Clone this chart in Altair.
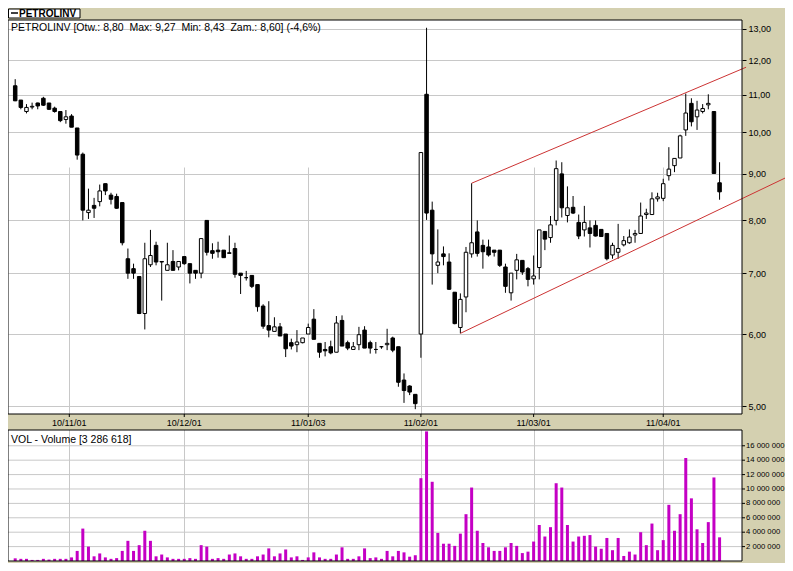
import altair as alt
import pandas as pd

# ---------------- data ----------------
opens = [11.25, 10.85, 10.54, 10.66, 10.77, 10.90, 10.77, 10.63, 10.54, 10.33,
         10.42, 10.11, 9.46, 8.16, 8.31, 8.39, 8.78, 8.53, 8.50, 8.37,
         7.26, 7.08, 6.94, 6.32, 7.15, 7.51, 7.21, 7.05, 7.21, 7.11,
         7.30, 7.17, 7.05, 7.00, 8.00, 7.41, 7.42, 7.42, 7.37, 7.45,
         7.00, 6.92, 6.96, 6.80, 6.44, 6.13, 6.04, 6.11, 6.00, 5.87,
         5.84, 5.87, 6.00, 6.23, 5.86, 5.77, 5.81, 5.73, 6.21, 5.87,
         5.77, 5.84, 6.06, 5.87, 5.77, 5.81, 5.84, 5.94, 5.81, 5.34,
         5.26, 5.15, 6.00, 11.01, 8.21, 7.14, 7.35, 7.20, 6.67, 6.10,
         6.59, 7.35, 7.77, 7.51, 7.48, 7.42, 7.42, 7.11, 6.66, 7.05,
         7.23, 7.08, 6.90, 7.10, 7.78, 7.66, 8.00, 9.00, 8.10, 8.27,
         7.96, 7.81, 7.85, 7.90, 7.82, 7.74, 7.33, 7.38, 7.52, 7.56,
         7.71, 7.74, 8.12, 8.12, 8.45, 8.46, 8.96, 9.19, 9.37, 10.06,
         10.76, 10.40, 10.54, 10.72, 10.54, 8.80]
highs = [11.44, 10.85, 10.74, 10.78, 10.78, 10.94, 10.77, 10.67, 10.54, 10.58,
         10.47, 10.11, 9.50, 8.67, 8.47, 8.76, 8.78, 8.58, 8.56, 8.37,
         7.45, 7.17, 6.95, 7.56, 7.81, 7.58, 7.21, 7.56, 7.42, 7.21,
         7.30, 7.17, 7.05, 7.64, 8.00, 7.55, 7.58, 7.42, 7.70, 7.56,
         7.00, 7.04, 6.96, 6.80, 6.47, 6.52, 6.26, 6.17, 6.00, 5.93,
         6.06, 5.94, 6.16, 6.39, 5.86, 5.88, 5.90, 6.28, 6.29, 5.90,
         5.88, 6.11, 6.12, 5.90, 5.88, 5.82, 6.08, 5.96, 5.81, 5.43,
         5.27, 5.15, 9.50, 13.03, 8.39, 7.82, 7.49, 7.36, 6.67, 6.65,
         7.48, 8.79, 8.00, 7.62, 7.62, 7.42, 7.42, 7.17, 7.00, 7.35,
         7.23, 7.11, 7.32, 7.81, 7.78, 8.09, 9.31, 9.27, 8.72, 8.51,
         8.12, 8.30, 8.00, 8.00, 7.82, 7.74, 7.56, 7.93, 7.69, 7.82,
         7.81, 8.37, 8.24, 8.59, 8.58, 8.89, 9.63, 9.36, 9.94, 11.03,
         10.90, 10.83, 10.74, 11.01, 10.54, 9.27]
lows = [10.82, 10.60, 10.49, 10.60, 10.60, 10.69, 10.58, 10.51, 10.26, 10.22,
        10.13, 9.33, 8.00, 8.03, 8.05, 8.29, 8.53, 8.33, 8.24, 7.51,
        6.90, 6.90, 6.31, 6.07, 7.11, 7.14, 6.53, 7.05, 7.05, 7.05,
        7.15, 6.82, 6.90, 6.91, 7.32, 7.26, 7.28, 7.28, 7.36, 6.92,
        6.64, 6.87, 6.74, 6.35, 6.08, 5.95, 6.04, 5.97, 5.66, 5.77,
        5.73, 5.86, 6.00, 5.92, 5.65, 5.67, 5.70, 5.73, 5.82, 5.76,
        5.77, 5.76, 5.79, 5.71, 5.71, 5.78, 5.76, 5.73, 5.25, 5.04,
        5.14, 4.96, 5.65, 8.01, 6.80, 7.00, 7.14, 6.71, 6.15, 6.01,
        6.34, 7.28, 7.30, 7.08, 7.30, 7.30, 7.11, 6.66, 6.53, 6.89,
        6.97, 6.77, 6.80, 6.89, 7.42, 7.56, 7.90, 8.06, 7.96, 8.13,
        7.63, 7.68, 7.47, 7.68, 7.68, 7.23, 7.26, 7.26, 7.49, 7.54,
        7.56, 7.74, 8.03, 8.12, 8.39, 8.40, 8.85, 9.04, 9.37, 9.91,
        10.15, 10.06, 10.49, 10.60, 9.01, 8.43]
closes = [10.83, 10.65, 10.65, 10.68, 10.69, 10.71, 10.60, 10.54, 10.30, 10.40,
          10.13, 9.44, 8.21, 8.21, 8.25, 8.62, 8.62, 8.44, 8.25, 7.56,
          7.00, 7.00, 6.32, 7.26, 7.32, 7.20, 7.20, 7.15, 7.05, 7.21,
          7.17, 7.00, 7.00, 7.64, 7.38, 7.36, 7.39, 7.28, 7.36, 6.98,
          6.96, 6.92, 6.77, 6.43, 6.12, 6.06, 6.11, 5.97, 5.78, 5.82,
          5.88, 5.94, 6.10, 5.92, 5.73, 5.75, 5.72, 6.17, 5.82, 5.79,
          5.81, 5.99, 5.79, 5.79, 5.77, 5.81, 5.86, 5.76, 5.31, 5.20,
          5.18, 5.03, 9.50, 8.15, 7.35, 7.20, 7.30, 6.72, 6.16, 6.55,
          7.38, 7.56, 7.36, 7.39, 7.33, 7.38, 7.14, 6.77, 7.00, 7.24,
          7.02, 6.89, 6.95, 7.81, 7.63, 7.91, 9.12, 8.26, 8.26, 8.15,
          7.69, 7.96, 7.74, 7.69, 7.68, 7.26, 7.51, 7.45, 7.60, 7.67,
          7.74, 8.09, 8.15, 8.45, 8.49, 8.78, 9.11, 9.36, 9.91, 10.50,
          10.27, 10.58, 10.62, 10.76, 9.01, 8.60]
volumes_mln = [0.37, 0.3, 0.3, 0.15, 0.15, 0.3, 0.2, 0.3, 0.3, 0.3,
               0.5, 1.4, 4.5, 2.0, 0.65, 1.05, 0.5, 0.3, 0.4, 1.4,
               2.8, 1.4, 2.2, 4.2, 2.8, 0.65, 0.9, 0.5, 0.3, 0.3,
               0.3, 0.4, 0.3, 2.2, 2.0, 0.3, 0.4, 0.3, 0.9, 1.05,
               0.65, 0.3, 0.3, 0.65, 0.9, 1.75, 0.65, 1.05, 1.6, 0.5,
               0.65, 0.15, 0.5, 1.2, 0.5, 0.3, 0.3, 0.9, 1.9, 0.3,
               0.3, 0.65, 1.75, 0.4, 0.5, 0.3, 1.4, 0.65, 1.4, 1.2,
               0.6, 0.8, 11.5, 18.0, 11.0, 3.9, 2.4, 2.4, 2.1, 3.8,
               6.5, 10.2, 4.2, 2.5, 1.9, 1.4, 1.4, 1.9, 2.5, 2.1,
               1.1, 1.3, 2.7, 5.0, 3.4, 4.7, 10.8, 10.2, 5.0, 2.7,
               3.4, 3.5, 3.6, 2.0, 1.7, 3.2, 1.5, 3.2, 0.7, 1.3,
               0.9, 4.0, 2.2, 5.2, 1.5, 2.9, 7.8, 4.2, 6.5, 14.3,
               8.7, 4.4, 2.5, 5.4, 11.6, 3.286618]

date_labels = ["10/11/01", "10/12/01", "11/01/03", "11/02/01", "11/03/01", "11/04/01"]
date_pos = [9.6, 30, 52, 72, 92, 115]
price_ticks = [5, 6, 7, 8, 9, 10, 11, 12, 13]
vol_ticks = [2e6, 4e6, 6e6, 8e6, 10e6, 12e6, 14e6, 16e6]

# trend channel end points (candle index, price)
trend_i1 = [81, 79]
trend_p1 = [8.79, 6.01]
trend_i2 = [129.7, 138.0]
trend_p2 = [11.79, 8.99]

NB = "\u00a0"
header_text = f"PETROLINV [Otw.: 8,80{NB}{NB}Max: 9,27{NB}{NB}Min: 8,43{NB}{NB}Zam.: 8,60] (-4,6%)"
vol_text = "VOL - Volume [3 286 618]"
legend_text = "PETROLINV"

# ---------------- tables ----------------
n = len(opens)
df = pd.DataFrame({
    "i": list(range(n)),
    "open": opens, "high": highs, "low": lows, "close": closes,
    "vol": [v * 1e6 for v in volumes_mln],
})
df["fill"] = ["white" if c >= o else "black" for o, c in zip(opens, closes)]
trend_df = pd.DataFrame({"i1": trend_i1, "p1": trend_p1, "i2": trend_i2, "p2": trend_p2})
dates_df = pd.DataFrame({"d": date_pos, "lab": date_labels})
vticks_df = pd.DataFrame({"v": vol_ticks,
                          "lab": [f"{int(v // 1e6)} 000 000" for v in vol_ticks]})
one = pd.DataFrame({"k": [0]})

# ---------------- layout (pixels) ----------------
FONT = "Liberation Sans"
GRID = "#c8c8c8"
BG = "#d4d0b0"
W = 734            # plot width
P_H = 394          # price panel height
GAP = 16           # date-label band
V_TOP = P_H + GAP  # volume panel top
V_BOT = 541        # volume panel bottom (= total plot height)

xscale = alt.Scale(domain=[-1.278, 128.98], nice=False, zero=False, padding=0)
pscale = alt.Scale(type="log", domain=[4.900, 13.289], range=[P_H, 0], nice=False, zero=False)
vscale = alt.Scale(domain=[0, 18.19e6], range=[V_BOT, V_TOP], nice=False, zero=False)

xaxis = alt.Axis(values=date_pos, grid=True, gridColor=GRID, labels=False, ticks=False,
                 domain=False, title=None)
paxis = alt.Axis(orient="right", values=price_ticks,
                 labelExpr="replace(format(datum.value, '.2f'), '.', ',')",
                 grid=True, gridColor=GRID, tickSize=4, tickColor="black",
                 domain=False, title=None, labelFont=FONT, labelFontSize=9,
                 labelColor="black", labelPadding=2)

def X(field):
    return alt.X(field, scale=xscale, axis=xaxis)

# price panel
wicks = alt.Chart(df).mark_rule(color="black", strokeWidth=1).encode(
    x=X("i:Q"), y=alt.Y("low:Q", scale=pscale, axis=paxis), y2="high:Q")
bodies = alt.Chart(df).mark_bar(size=3.5, stroke="black", strokeWidth=1).encode(
    x=X("i:Q"), y=alt.Y("open:Q", scale=pscale, axis=None), y2="close:Q",
    fill=alt.Fill("fill:N", scale=None))
trend = alt.Chart(trend_df).mark_rule(color="#cc3333", strokeWidth=1).encode(
    x=X("i1:Q"), y=alt.Y("p1:Q", scale=pscale, axis=None), x2="i2:Q", y2="p2:Q")
header = alt.Chart(one).mark_text(align="left", baseline="middle", font=FONT,
                                  fontSize=10.5, color="black", text=header_text).encode(
    x=alt.value(3), y=alt.value(8))

# band between panels
gap_band = alt.Chart(one).mark_rect(fill=BG, strokeWidth=0).encode(
    x=alt.value(0), x2=alt.value(W), y=alt.value(P_H), y2=alt.value(V_TOP))
date_ticks = alt.Chart(dates_df).mark_rule(color="black", strokeWidth=1).encode(
    x=X("d:Q"), y=alt.value(P_H), y2=alt.value(P_H + 3))
date_text = alt.Chart(dates_df).mark_text(align="center", baseline="middle", font=FONT,
                                          fontSize=9, color="black").encode(
    x=X("d:Q"), y=alt.value(P_H + 8.5), text="lab:N")

# volume panel
vgrid = alt.Chart(vticks_df).mark_rule(color=GRID, strokeWidth=1).encode(
    x=alt.value(0), x2=alt.value(W), y=alt.Y("v:Q", scale=vscale, axis=None))
vtick = alt.Chart(vticks_df).mark_rule(color="black", strokeWidth=1).encode(
    x=alt.value(W), x2=alt.value(W + 3), y=alt.Y("v:Q", scale=vscale, axis=None))
vlab = alt.Chart(vticks_df).mark_text(align="left", baseline="middle", font=FONT,
                                      fontSize=7.7, color="black").encode(
    x=alt.value(W + 4), y=alt.Y("v:Q", scale=vscale, axis=None), text="lab:N")
vol_bars = alt.Chart(df).mark_bar(size=3, color="#c400c4").encode(
    x=X("i:Q"), y=alt.Y("vol:Q", scale=vscale, axis=None), y2=alt.datum(0))
vol_label = alt.Chart(one).mark_text(align="left", baseline="middle", font=FONT,
                                     fontSize=10.5, color="black", text=vol_text).encode(
    x=alt.value(3), y=alt.value(V_TOP + 9.5))

# panel borders
p_border = alt.Chart(one).mark_rect(fillOpacity=0, stroke="black", strokeWidth=1).encode(
    x=alt.value(0), x2=alt.value(W), y=alt.value(0), y2=alt.value(P_H))
v_border = alt.Chart(one).mark_rect(fillOpacity=0, stroke="black", strokeWidth=1).encode(
    x=alt.value(0), x2=alt.value(W), y=alt.value(V_TOP), y2=alt.value(V_BOT))

# legend box above the price panel
box = alt.Chart(one).mark_rect(fill="white", stroke="black", strokeWidth=1).encode(
    x=alt.value(0.5), x2=alt.value(72), y=alt.value(-11), y2=alt.value(-2))
leg_line = alt.Chart(one).mark_rule(color="black", strokeWidth=1.5).encode(
    x=alt.value(3), x2=alt.value(10), y=alt.value(-7))
leg_text = alt.Chart(one).mark_text(align="left", baseline="middle", font=FONT,
                                    fontSize=10, fontWeight="bold", color="black",
                                    text=legend_text).encode(
    x=alt.value(11), y=alt.value(-6.3))

chart = alt.layer(
    wicks, gap_band, vgrid, vol_bars, bodies, trend, date_ticks, date_text,
    vtick, vlab, p_border, v_border, header, vol_label, box, leg_line, leg_text,
).resolve_scale(y="independent").properties(
    width=W, height=V_BOT,
    autosize=alt.AutoSizeParams(type="none"),
    padding={"left": 0, "top": 12, "right": 43, "bottom": 2},
).configure(background=BG).configure_view(strokeWidth=0, fill="white")

chart.save("out.html", embed_options={"renderer": "svg", "actions": False})
